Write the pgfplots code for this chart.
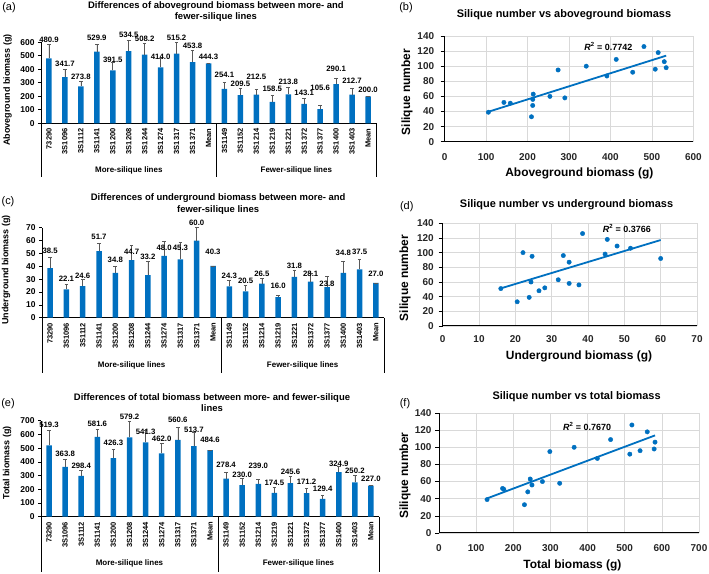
\documentclass[border=0pt]{standalone}
\usepackage{pgfplots}
\usepackage{pgfplotstable}
\pgfplotsset{compat=1.18}
\usepackage{fontspec}
\setmainfont{Liberation Sans}
\definecolor{barblue}{RGB}{0,112,192}
\definecolor{errgray}{RGB}{89,89,89}
\definecolor{gridgray}{RGB}{217,217,217}
\newcommand\fs[1]{\fontsize{#1}{#1}\selectfont}

% bars: position, mean value, error (upper), label height
\pgfplotstableread{
x y err ly
0 480.9 104 622
1 341.7 59 439
2 273.8 40 345
3 529.9 57 630
4 391.5 62 469
5 534.5 83 659
6 508.2 84 624
7 414.0 67 493
8 515.2 85 634
9 453.8 85 575
10 444.3 0 493
11 254.1 47 358
12 209.5 52 289
13 212.5 41 345
14 158.5 46 254
15 213.8 55 308
16 143.1 44 226
17 105.6 30 264
18 290.1 46 402
19 212.7 49 313
20 200.0 0 246
}\tabA

\pgfplotstableread{
x y err ly
0 38.5 8.2 51.9
1 22.1 3.9 30.6
2 24.6 5.2 32.4
3 51.7 5.8 63.0
4 34.8 4.9 44.9
5 44.7 11.3 51.3
6 33.2 10.3 47.5
7 48.0 11.1 54.7
8 45.3 13.3 54.7
9 60.0 10.0 74.2
10 40.3 0 51.0
11 24.3 4.5 32.4
12 20.5 4.4 28.8
13 26.5 4.1 34.5
14 16.0 1.5 24.6
15 31.8 5.3 40.2
16 28.1 6.4 34.5
17 23.8 8.1 26.7
18 34.8 9.3 50.1
19 37.5 8.1 51.3
20 27.0 0 34.5
}\tabC

\pgfplotstableread{
x y err ly
0 519.3 108 669
1 363.8 55 462
2 298.4 42 370
3 581.6 56 676
4 426.3 65 540
5 579.2 120 725
6 541.3 91 620
7 462.0 73 565
8 560.6 91 705
9 513.7 99 637
10 484.6 0 560
11 278.4 43 377
12 230.0 50 304
13 239.0 34 370
14 174.5 40 248
15 245.6 46 328
16 171.2 36 255
17 129.4 29 200
18 324.9 40 389
19 250.2 54 336
20 227.0 0 273
}\tabE

% lines: aboveground, underground, total biomass, silique number
\pgfplotstableread{
name ab ug tot sil
73290 480.9 38.5 519.3 126
3S1096 341.7 22.1 363.8 100
3S1112 273.8 24.6 298.4 95
3S1141 529.9 51.7 581.6 106
3S1200 391.5 34.8 426.3 87
3S1208 534.5 44.7 579.2 98
3S1244 508.2 33.2 541.3 96
3S1274 414.0 48.0 462.0 109
3S1317 515.2 45.3 560.6 118
3S1371 453.8 60.0 513.7 92
3S1149 254.1 24.3 278.4 60
3S1152 209.5 20.5 230.0 33
3S1214 212.5 26.5 239.0 48
3S1219 158.5 16.0 174.5 51
3S1221 213.8 31.8 245.6 63
3S1372 143.1 28.1 171.2 52
3S1377 105.6 23.8 129.4 39
3S1400 290.1 34.8 324.9 58
3S1403 212.7 37.5 250.2 56
}\tabS

\pgfplotsset{
 barax/.style={
   scale only axis, clip=false,
   xmin=-0.5, xmax=20.5, ymin=0,
   axis lines*=left,
   axis line style={black, line width=0.8bp},
   xtick={0,...,20},
   xticklabels={73290,3S1096,3S1112,3S1141,3S1200,3S1208,3S1244,3S1274,3S1317,3S1371,Mean,3S1149,3S1152,3S1214,3S1219,3S1221,3S1372,3S1377,3S1400,3S1403,Mean},
   x tick label style={rotate=90, anchor=east, font=\bfseries\fs{7.5}, inner sep=2bp},
   xtick style={draw=none},
   y tick label style={font=\bfseries\fs{8.5}},
   ytick style={black, line width=0.6bp},
   tick align=outside, major tick length=3bp,
   /pgf/number format/assume math mode=true,
   title style={font=\bfseries\fontsize{9.5}{11.5}\selectfont, align=center, anchor=center, yshift=-6pt},
   ylabel style={font=\bfseries\fs{9}, anchor=center},
 },
 barplot/.style={ybar, bar width=5.5bp, fill=barblue, draw=none,
   error bars/.cd, y dir=plus, y explicit,
   error bar style={errgray, line width=0.6bp},
   error mark options={rotate=90, mark size=1.8bp, errgray, line width=0.6bp}},
 labplot/.style={draw=none, mark=none,
   nodes near coords={\pgfmathprintnumber[fixed,fixed zerofill,precision=1]{\pgfplotspointmeta}},
   point meta=explicit,
   nodes near coords style={font=\bfseries\fs{7.8}, inner sep=0pt, anchor=south, yshift=-3bp, text=black}},
 scax/.style={
   scale only axis, clip=false,
   ymin=0, ymax=140, ytick={0,20,...,140},
   axis lines*=left,
   axis line style={black, line width=1bp},
   grid=major, grid style={gridgray, line width=0.6bp},
   tick label style={font=\bfseries\fs{10}, text=black!85},
   /pgf/number format/assume math mode=true,
   xtick style={draw=none}, ytick style={black, line width=0.6bp},
   tick align=outside, major tick length=4bp,
   title style={font=\bfseries\fs{11}, anchor=center, yshift=-6pt},
   xlabel style={font=\bfseries\fs{12}, anchor=center},
   ylabel style={font=\bfseries\fs{12}, anchor=center},
 },
 dots/.style={only marks, mark=*, mark size=2.2bp, barblue, mark options={draw=barblue, fill=barblue}},
 trend/.style={barblue, line width=1.8bp, no marks},
}

\begin{document}
\begin{tikzpicture}[x=1bp,y=1bp]
\useasboundingbox (0,0) rectangle (709,574);

% ---------- (a)
\begin{axis}[barax, at={(41bp,450.7bp)}, anchor=south west, width=335bp, height=81bp,
  ymax=600, ytick={0,100,...,600},
  title={Differences of aboveground biomass between more- and\\fewer-silique lines},
  title style={at={(axis description cs:0.522,1.377)}},
  ylabel={Aboveground biomass (g)},
  ylabel style={at={(axis description cs:-0.1,0.41)}}]
\addplot[barplot] table[x=x, y=y, y error=err] {\tabA};
\addplot[labplot] table[x=x, y=ly, meta=y] {\tabA};
\end{axis}

% ---------- (b)
\begin{axis}[scax, at={(444.6bp,432.3bp)}, anchor=south west, width=248.7bp, height=105.7bp,
  xmin=0, xmax=600, xtick={0,100,...,600},
  xticklabel shift=4bp, yticklabel shift=3bp,
  title={Silique number vs aboveground biomass},
  title style={at={(axis description cs:0.48,1.205)}},
  xlabel={Aboveground biomass (g)},
  xlabel style={at={(axis description cs:0.542,-0.296)}},
  ylabel={Silique number},
  ylabel style={at={(axis description cs:-0.151,0.47)}}]
\addplot[dots] table[x=ab, y=sil] {\tabS};
\addplot[trend] table[x=ab, y={create col/linear regression={x=ab, y=sil}}] {\tabS};
\node[font=\bfseries\fs{9}] at (axis cs:395,126) {\textit{R}\textsuperscript{2} = 0.7742};
\end{axis}

% ---------- (c)
\begin{axis}[barax, at={(42bp,256.3bp)}, anchor=south west, width=342bp, height=90bp,
  ymax=70, ytick={0,10,...,70},
  title={Differences of underground biomass between more- and\\fewer-silique lines},
  title style={at={(axis description cs:0.515,1.263)}},
  ylabel={Underground biomass (g)},
  ylabel style={at={(axis description cs:-0.105,0.53)}}]
\addplot[barplot] table[x=x, y=y, y error=err] {\tabC};
\addplot[labplot] table[x=x, y=ly, meta=y] {\tabC};
\end{axis}

% ---------- (d)
\begin{axis}[scax, at={(442.7bp,248bp)}, anchor=south west, width=254.3bp, height=102.7bp,
  xmin=0, xmax=70, xtick={0,10,...,70},
  xticklabel shift=2bp, yticklabel shift=1.5bp,
  title={Silique number vs underground biomass},
  title style={at={(axis description cs:0.487,1.178)}},
  xlabel={Underground biomass (g)},
  xlabel style={at={(axis description cs:0.536,-0.299)}},
  ylabel={Silique number},
  ylabel style={at={(axis description cs:-0.148,0.467)}}]
\addplot[dots] table[x=ug, y=sil] {\tabS};
\addplot[trend] table[x=ug, y={create col/linear regression={x=ug, y=sil}}] {\tabS};
\node[font=\bfseries\fs{9}] at (axis cs:50.7,133) {\textit{R}\textsuperscript{2} = 0.3766};
\end{axis}

% ---------- (e)
\begin{axis}[barax, at={(41bp,57.3bp)}, anchor=south west, width=338bp, height=96bp,
  ymax=700, ytick={0,100,...,700},
  title={Differences of total biomass between more- and fewer-silique\\lines},
  title style={at={(axis description cs:0.506,1.19)}},
  ylabel={Total biomass (g)},
  ylabel style={at={(axis description cs:-0.1,0.56)}}]
\addplot[barplot] table[x=x, y=y, y error=err] {\tabE};
\addplot[labplot] table[x=x, y=ly, meta=y] {\tabE};
\end{axis}

% ---------- (f)
\begin{axis}[scax, at={(439bp,41bp)}, anchor=south west, width=260bp, height=120bp,
  xmin=0, xmax=700, xtick={0,100,...,700},
  xticklabel shift=4bp, yticklabel shift=0bp,
  title={Silique number vs total biomass},
  title style={at={(axis description cs:0.529,1.136)}},
  xlabel={Total biomass (g)},
  xlabel style={at={(axis description cs:0.513,-0.267)}},
  ylabel={Silique number},
  ylabel style={at={(axis description cs:-0.131,0.477)}}]
\addplot[dots] table[x=tot, y=sil] {\tabS};
\addplot[trend] table[x=tot, y={create col/linear regression={x=tot, y=sil}}] {\tabS};
\node[font=\bfseries\fs{9}] at (axis cs:398.5,124) {\textit{R}\textsuperscript{2} = 0.7670};
\end{axis}

% group separators and labels
\begin{scope}[line width=0.8bp, black]
\draw (41,450.7) -- (41,397); \draw (216.5,450.7) -- (216.5,397); \draw (376,450.7) -- (376,397);
\draw (42,256.3) -- (42,201); \draw (221.1,256.3) -- (221.1,201); \draw (384,256.3) -- (384,201);
\draw (41,57.3) -- (41,2); \draw (218,57.3) -- (218,2); \draw (379,57.3) -- (379,2);
\end{scope}
\begin{scope}[font=\bfseries\fs{8}]
\node at (128.8,403.3) {More-silique lines};
\node at (296.3,403.3) {Fewer-silique lines};
\node at (131.6,209) {More-silique lines};
\node at (302.6,209) {Fewer-silique lines};
\node at (129.5,10.7) {More-silique lines};
\node at (298.5,10.7) {Fewer-silique lines};
\end{scope}

% panel letters
\begin{scope}[font=\fs{11}]
\node at (9,566.5) {(a)};
\node at (406,566) {(b)};
\node at (8,372) {(c)};
\node at (406.7,367.3) {(d)};
\node at (8,170) {(e)};
\node at (405,170) {(f)};
\end{scope}
\end{tikzpicture}
\end{document}
